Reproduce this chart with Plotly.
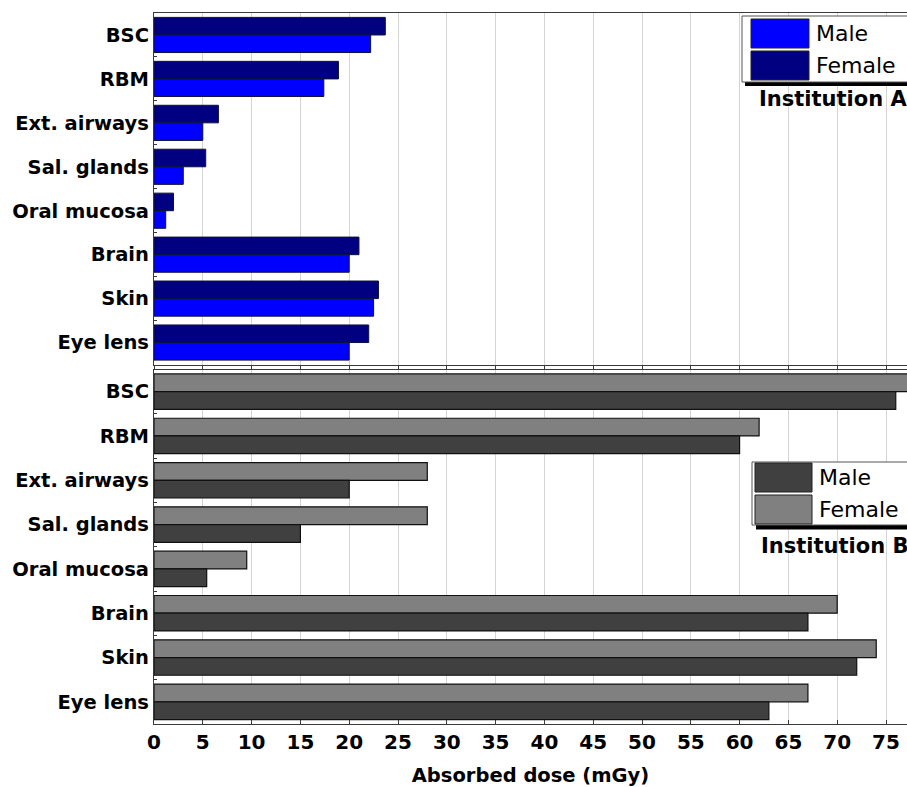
import plotly.graph_objects as go

# ---------------- data ----------------
organs = ["BSC", "RBM", "Ext. airways", "Sal. glands", "Oral mucosa", "Brain", "Skin", "Eye lens"]

inst_a_male = [22.2, 17.4, 5.0, 3.0, 1.2, 20.0, 22.5, 20.0]
inst_a_female = [23.7, 18.9, 6.6, 5.3, 2.0, 21.0, 23.0, 22.0]

inst_b_male = [76.0, 60.0, 20.0, 15.0, 5.4, 67.0, 72.0, 63.0]
inst_b_female = [78.0, 62.0, 28.0, 28.0, 9.5, 70.0, 74.0, 67.0]

x_ticks = list(range(0, 80, 5))

# ---------------- styling ----------------
FONT = "DejaVu Sans, Liberation Sans, Arial, sans-serif"
W, H = 907, 787
L, R, T, B = 154, 0, 13, 63
PW, PH = W - L - R, H - T - B

COL_A_M, COL_A_F = "#0000FF", "#000080"
COL_B_M, COL_B_F = "#404040", "#808080"


def px_x(x):
    return (x - L) / PW


def px_y(y):
    return (H - B - y) / PH


fig = go.Figure()

# Institution A (top panel) – female listed first so it is drawn on top of each pair
fig.add_trace(go.Bar(y=organs, x=inst_a_female, orientation="h", name="Female",
                     marker=dict(color=COL_A_F, line=dict(color="#10103a", width=1)),
                     xaxis="x", yaxis="y", showlegend=False))
fig.add_trace(go.Bar(y=organs, x=inst_a_male, orientation="h", name="Male",
                     marker=dict(color=COL_A_M, line=dict(color="#10103a", width=1)),
                     xaxis="x", yaxis="y", showlegend=False))

# Institution B (bottom panel)
fig.add_trace(go.Bar(y=organs, x=inst_b_female, orientation="h", name="Female",
                     marker=dict(color=COL_B_F, line=dict(color="#111111", width=1.2)),
                     xaxis="x2", yaxis="y2", showlegend=False))
fig.add_trace(go.Bar(y=organs, x=inst_b_male, orientation="h", name="Male",
                     marker=dict(color=COL_B_M, line=dict(color="#111111", width=1.2)),
                     xaxis="x2", yaxis="y2", showlegend=False))

xmax = (W - L) / 9.76
axis_line = dict(showline=True, linecolor="#3a3a3a", linewidth=1.3)
grid = dict(showgrid=True, gridcolor="#d4d4d4", gridwidth=1)

ytick_font = dict(family=FONT, size=19.5, color="black", weight="bold")

fig.update_layout(
    width=W, height=H,
    margin=dict(l=L, r=R, t=T, b=B),
    paper_bgcolor="white", plot_bgcolor="white",
    barmode="group", bargap=0.2, bargroupgap=0,
    font=dict(family=FONT, color="black"),
    xaxis=dict(domain=[0, 1], anchor="y", range=[0, xmax], tickvals=x_ticks,
               showticklabels=False, ticks="outside", ticklen=4, tickcolor="#3a3a3a",
               mirror=True, zeroline=False, **axis_line, **grid),
    yaxis=dict(domain=[px_y(364.5), 1], anchor="x", categoryorder="array",
               categoryarray=organs, autorange="reversed", ticks="inside",
               tickson="boundaries", ticklen=3, tickcolor="#3a3a3a",
               tickfont=ytick_font, showgrid=False, zeroline=False, **axis_line),
    xaxis2=dict(domain=[0, 1], anchor="y2", range=[0, xmax], tickvals=x_ticks,
                ticks="inside", ticklen=4, tickcolor="#3a3a3a", mirror=True,
                zeroline=False,
                tickfont=dict(family=FONT, size=20, color="black", weight="bold"),
                title=dict(text="Absorbed dose (mGy)", standoff=17,
                           font=dict(family=FONT, size=19.5, color="black", weight="bold")),
                **axis_line, **grid),
    yaxis2=dict(domain=[0, px_y(369.5)], anchor="x2", categoryorder="array",
                categoryarray=organs, autorange="reversed", ticks="inside",
                tickson="boundaries", ticklen=3, tickcolor="#3a3a3a",
                tickfont=ytick_font, showgrid=False, zeroline=False, **axis_line),
)

shapes = []
annotations = []


def legend_block(box, shadow, items, title, title_xy):
    # shadow
    shapes.append(dict(type="rect", xref="paper", yref="paper", layer="above",
                       x0=px_x(shadow[0]), x1=px_x(shadow[2]),
                       y0=px_y(shadow[3]), y1=px_y(shadow[1]),
                       fillcolor="black", line=dict(width=0)))
    # box
    shapes.append(dict(type="rect", xref="paper", yref="paper", layer="above",
                       x0=px_x(box[0]), x1=px_x(box[2]),
                       y0=px_y(box[3]), y1=px_y(box[1]),
                       fillcolor="white", line=dict(color="#555555", width=1)))
    for (sx0, sy0, sx1, sy1, color, label, tx) in items:
        shapes.append(dict(type="rect", xref="paper", yref="paper", layer="above",
                           x0=px_x(sx0), x1=px_x(sx1), y0=px_y(sy1), y1=px_y(sy0),
                           fillcolor=color, line=dict(color="#222222", width=1)))
        annotations.append(dict(xref="paper", yref="paper", x=px_x(tx),
                                y=px_y((sy0 + sy1) / 2), text=label, showarrow=False,
                                xanchor="left", yanchor="middle",
                                font=dict(family=FONT, size=22, color="black")))
    annotations.append(dict(xref="paper", yref="paper", x=px_x(title_xy[0]),
                            y=px_y(title_xy[1]), text=title, showarrow=False,
                            xanchor="left", yanchor="middle",
                            font=dict(family=FONT, size=21, color="black", weight="bold")))


legend_block(box=(742, 16, 930, 82), shadow=(745, 20, 933, 86),
             items=[(751, 19, 809, 48, COL_A_M, "Male", 814),
                    (751, 51, 809, 80, COL_A_F, "Female", 814)],
             title="Institution A", title_xy=(757, 99))

legend_block(box=(752, 462, 930, 525), shadow=(756, 466, 934, 529.5),
             items=[(755, 463, 812, 492, COL_B_M, "Male", 817),
                    (755, 495, 812, 524, COL_B_F, "Female", 817)],
             title="Institution B", title_xy=(759, 546))

fig.update_layout(shapes=shapes, annotations=annotations)

fig.write_html(
    "out.html",
    config={"displayModeBar": False},
    post_script="document.body.style.margin='0';document.body.style.overflow='hidden';",
)
